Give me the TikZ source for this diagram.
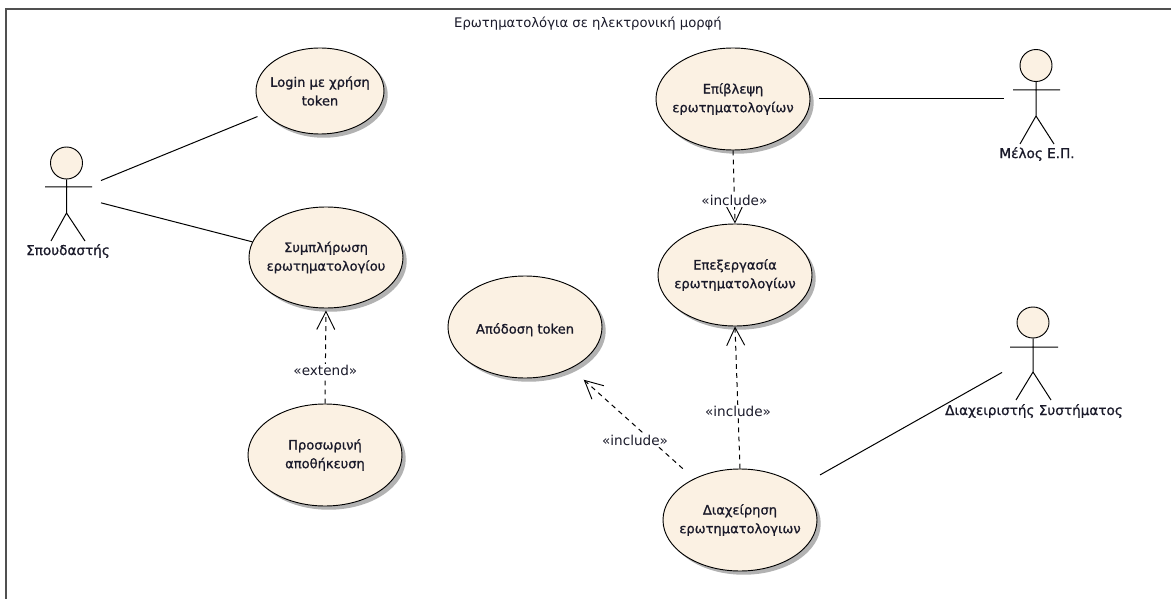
\documentclass[tikz,border=0pt]{standalone}
\usepackage{fontspec}
\setmainfont{DejaVu Sans}
\usetikzlibrary{arrows.meta,shadows,shapes.geometric}
\definecolor{ucfill}{HTML}{FBF1E3}
\definecolor{framecol}{HTML}{505050}
\definecolor{txt}{HTML}{1A1A2A}
\newfontfamily\heavier[FakeBold=0.9]{DejaVu Sans}
\tikzset{
  px/.style={x=0.75pt,y=-0.75pt},
  usecase/.style={ellipse,draw=black,line width=0.7pt,fill=ucfill,inner ysep=0pt,inner xsep=-15pt,align=center,
    font=\heavier\fontsize{9.8pt}{14pt}\selectfont,text=txt,
    execute at begin node={\rule{0pt}{12pt}},
    drop shadow={shadow xshift=2.8pt,shadow yshift=-2.8pt,fill=black!30,opacity=1}},
  head/.style={ellipse,draw=black,line width=0.7pt,fill=ucfill,inner sep=0pt},
  limb/.style={draw=black,line width=0.75pt},
  actorbox/.style={draw=none,inner sep=0pt,outer sep=0pt},
  actorlabel/.style={font=\heavier\fontsize{10.2pt}{10pt}\selectfont,text=txt,inner sep=0pt},
  assoc/.style={draw=black,line width=0.75pt},
  dep/.style={draw=black,line width=0.75pt,dash pattern=on 3.6pt off 3.2pt,
    -{Straight Barb[length=13.5pt,width=13.5pt,line width=0.7pt]}},
  stereo/.style={fill=white,inner sep=1pt,font=\fontsize{10.2pt}{10pt}\selectfont,text=txt,solid},
  titletext/.style={font=\fontsize{9.9pt}{10pt}\selectfont,text=txt,inner sep=0pt},
  framing/.style={draw=framecol,line width=1.5pt}
}
\begin{document}
\begin{tikzpicture}[px]
\useasboundingbox (0,0) rectangle (1171,599);
\fill[white] (0,0) rectangle (1171,599);
\draw[framing] (6,599) -- (6,9) -- (1171,9);
\node[titletext] (title) at (588,24) {Ερωτηματολόγια σε ηλεκτρονική μορφή};

% use cases
\node[usecase,minimum width=128*0.75pt,minimum height=86*0.75pt] (login) at (320,91) {Login με χρήση\\token};
\node[usecase,minimum width=154*0.75pt,minimum height=101*0.75pt] (symp) at (326,257.5) {Συμπλήρωση\\ερωτηματολογίου};
\node[usecase,minimum width=154*0.75pt,minimum height=102*0.75pt] (pros) at (325,455) {Προσωρινή\\αποθήκευση};
\node[usecase,minimum width=154*0.75pt,minimum height=102*0.75pt] (apod) at (525,327) {Απόδοση token};
\node[usecase,minimum width=154*0.75pt,minimum height=102*0.75pt] (epib) at (733,99) {Επίβλεψη\\ερωτηματολογίων};
\node[usecase,minimum width=154*0.75pt,minimum height=102*0.75pt] (epex) at (735,275) {Επεξεργασία\\ερωτηματολογίων};
\node[usecase,minimum width=154*0.75pt,minimum height=102*0.75pt] (diax) at (740,520) {Διαχείρηση\\ερωτηματολογιων};

% actors
\node[head,minimum width=32*0.75pt,minimum height=32*0.75pt] (h1) at (66.5,163) {};
\node[actorbox,minimum width=66*0.75pt,minimum height=94*0.75pt] (stud) at (68,194) {};
\draw[limb] (h1.south) -- (66.5,213) (45,187) -- (92,187) (51,241) -- (66.5,213) -- (85,241);
\node[actorlabel] (studl) at (68,251) {Σπουδαστής};

\node[head,minimum width=32*0.75pt,minimum height=32*0.75pt] (h2) at (1036,65.5) {};
\node[actorbox,minimum width=64*0.75pt,minimum height=100*0.75pt] (melos) at (1036,99) {};
\draw[limb] (h2.south) -- (1036,116) (1013,90) -- (1060,90) (1020,144) -- (1036,116) -- (1054,144);
\node[actorlabel] (melosl) at (1037,154) {Μέλος Ε.Π.};

\node[head,minimum width=32*0.75pt,minimum height=31*0.75pt] (h3) at (1033,322.5) {};
\node[actorbox,minimum width=62*0.75pt,minimum height=100*0.75pt] (admin) at (1033,355) {};
\draw[limb] (h3.south) -- (1033,372) (1010,347) -- (1058,347) (1016,400) -- (1033,372) -- (1051,400);
\node[actorlabel] (adminl) at (1034,411) {Διαχειριστής Συστήματος};

% associations
\draw[assoc,shorten >=8*0.75pt] (stud) -- (login);
\draw[assoc] (stud.-15) -- (symp.168);
\draw[assoc,shorten <=9*0.75pt] (epib) -- (melos);
\draw[assoc,shorten <=24*0.75pt] (diax) -- (admin);

% dependencies
\draw[dep,shorten >=2*0.75pt] (pros.north) -- node[stereo,pos=.35] (l1) {«extend»} (symp.south);
\draw[dep] (epib.south) -- node[stereo,pos=.69] (l2) {«include»} (epex.north);
\draw[dep] (diax.north) -- node[stereo,pos=.4] (l3) {«include»} (epex.south);
\draw[dep,shorten <=15*0.75pt,shorten >=17*0.75pt] (diax) -- node[stereo,pos=.36,xshift=-11pt,yshift=-1pt] (l4) {«include»} (apod);
\end{tikzpicture}
\end{document}
